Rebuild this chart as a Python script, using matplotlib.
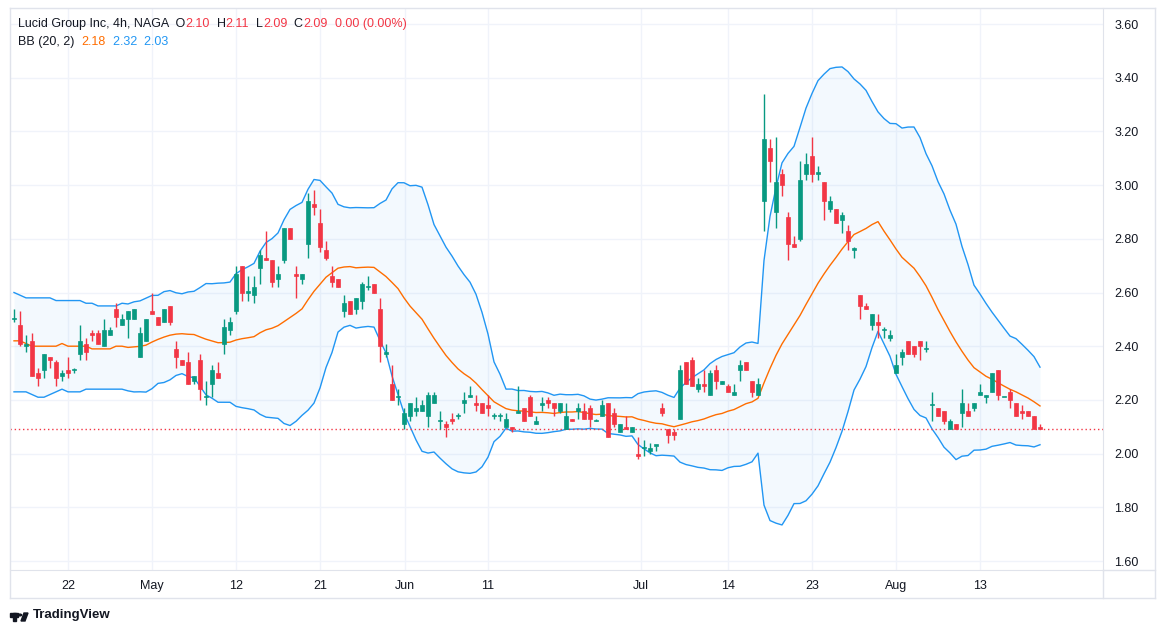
import numpy as np
import pandas as pd
import matplotlib
matplotlib.use("Agg")
import matplotlib.pyplot as plt
from matplotlib.patches import Rectangle, Circle, Polygon
from matplotlib.lines import Line2D

opens = [2.50,2.48,2.40,2.42,2.30,2.31,2.36,2.34,2.29,2.31,2.31,2.37,2.41,2.45,2.45,2.40,2.44,2.54,2.48,2.50,
 2.50,2.36,2.42,2.53,2.51,2.49,2.55,2.39,2.35,2.34,2.27,2.35,2.21,2.26,2.30,2.41,2.46,2.53,2.70,2.60,
 2.59,2.69,2.73,2.72,2.65,2.72,2.84,2.67,2.65,2.78,2.93,2.86,2.76,2.66,2.65,2.53,2.57,2.54,2.57,2.62,
 2.63,2.54,2.37,2.26,2.21,2.11,2.14,2.16,2.16,2.14,2.19,2.12,2.11,2.13,2.14,2.19,2.21,2.19,2.19,2.18,
 2.14,2.14,2.10,2.10,2.15,2.17,2.21,2.11,2.18,2.20,2.19,2.16,2.09,2.13,2.16,2.16,2.17,2.12,2.14,2.19,
 2.15,2.08,2.10,2.08,2.00,2.02,2.01,2.03,2.17,2.09,2.08,2.13,2.34,2.35,2.24,2.26,2.22,2.31,2.26,2.25,
 2.22,2.31,2.34,2.27,2.22,2.94,3.14,2.90,3.04,2.88,2.78,2.80,3.04,3.11,3.04,3.01,2.91,2.91,2.87,2.83,
 2.76,2.59,2.55,2.48,2.49,2.46,2.43,2.30,2.36,2.42,2.40,2.42,2.39,2.18,2.17,2.16,2.09,2.11,2.15,2.16,
 2.17,2.22,2.21,2.23,2.31,2.21,2.23,2.19,2.16,2.16,2.14,2.10]
highs = [2.54,2.53,2.44,2.45,2.32,2.37,2.36,2.35,2.31,2.36,2.32,2.48,2.43,2.46,2.46,2.50,2.47,2.56,2.52,2.53,
 2.54,2.47,2.50,2.60,2.51,2.54,2.55,2.42,2.35,2.38,2.29,2.37,2.27,2.33,2.34,2.50,2.51,2.70,2.70,2.66,
 2.66,2.76,2.83,2.72,2.70,2.84,2.84,2.70,2.67,2.97,2.98,2.91,2.79,2.70,2.65,2.59,2.57,2.58,2.64,2.66,
 2.63,2.58,2.41,2.33,2.24,2.17,2.19,2.21,2.20,2.23,2.23,2.16,2.12,2.15,2.15,2.23,2.25,2.22,2.19,2.22,
 2.15,2.15,2.15,2.10,2.25,2.17,2.22,2.14,2.21,2.21,2.19,2.19,2.19,2.13,2.19,2.19,2.18,2.13,2.20,2.19,
 2.17,2.11,2.14,2.10,2.06,2.05,2.04,2.03,2.19,2.09,2.09,2.33,2.34,2.36,2.28,2.31,2.31,2.33,2.27,2.26,
 2.26,2.35,2.34,2.27,2.28,3.34,3.17,3.18,3.06,2.90,2.81,3.09,3.12,3.18,3.07,3.01,2.96,2.91,2.90,2.85,
 2.77,2.59,2.56,2.52,2.52,2.47,2.46,2.37,2.39,2.42,2.40,2.42,2.42,2.23,2.17,2.16,2.13,2.11,2.24,2.19,
 2.19,2.26,2.22,2.30,2.31,2.21,2.24,2.19,2.18,2.16,2.14,2.11]
lows = [2.49,2.40,2.38,2.29,2.25,2.28,2.32,2.25,2.27,2.28,2.30,2.35,2.35,2.42,2.41,2.40,2.44,2.47,2.48,2.43,
 2.50,2.36,2.42,2.52,2.48,2.49,2.48,2.32,2.33,2.26,2.26,2.20,2.18,2.21,2.28,2.37,2.44,2.52,2.57,2.57,
 2.56,2.63,2.72,2.62,2.62,2.71,2.80,2.58,2.63,2.73,2.89,2.75,2.72,2.62,2.62,2.51,2.52,2.52,2.54,2.61,
 2.60,2.34,2.36,2.20,2.18,2.09,2.12,2.14,2.16,2.10,2.19,2.09,2.06,2.11,2.13,2.15,2.21,2.16,2.15,2.14,
 2.13,2.12,2.10,2.08,2.15,2.12,2.14,2.11,2.16,2.17,2.14,2.15,2.09,2.12,2.13,2.13,2.10,2.12,2.14,2.06,
 2.10,2.08,2.09,2.08,1.98,1.99,2.00,2.01,2.14,2.04,2.05,2.13,2.26,2.25,2.23,2.23,2.22,2.24,2.26,2.23,
 2.22,2.27,2.31,2.21,2.22,2.83,3.01,2.84,2.96,2.72,2.77,2.79,3.02,3.01,3.02,2.87,2.90,2.86,2.82,2.76,
 2.73,2.50,2.54,2.46,2.43,2.43,2.42,2.30,2.33,2.37,2.36,2.35,2.38,2.12,2.14,2.11,2.09,2.09,2.10,2.14,
 2.16,2.22,2.19,2.23,2.20,2.21,2.17,2.14,2.13,2.14,2.09,2.09]
closes = [2.50,2.41,2.41,2.29,2.28,2.37,2.35,2.28,2.30,2.30,2.31,2.42,2.38,2.44,2.41,2.46,2.46,2.51,2.50,2.53,
 2.54,2.45,2.50,2.52,2.48,2.54,2.49,2.36,2.33,2.26,2.29,2.24,2.21,2.31,2.28,2.47,2.49,2.67,2.60,2.60,
 2.62,2.74,2.72,2.64,2.67,2.84,2.80,2.66,2.67,2.94,2.92,2.77,2.73,2.64,2.62,2.56,2.52,2.58,2.63,2.62,
 2.60,2.40,2.38,2.20,2.21,2.15,2.19,2.17,2.18,2.22,2.22,2.12,2.10,2.12,2.14,2.20,2.22,2.18,2.15,2.17,
 2.14,2.14,2.13,2.09,2.16,2.12,2.14,2.12,2.19,2.19,2.17,2.19,2.14,2.12,2.17,2.13,2.13,2.12,2.18,2.06,
 2.11,2.11,2.09,2.10,1.99,2.02,2.02,2.03,2.15,2.07,2.07,2.31,2.26,2.25,2.26,2.25,2.30,2.27,2.27,2.23,
 2.23,2.33,2.31,2.23,2.26,3.17,3.09,3.01,3.00,2.78,2.77,3.02,3.08,3.04,3.05,2.94,2.94,2.86,2.89,2.79,
 2.76,2.55,2.54,2.52,2.48,2.46,2.44,2.33,2.38,2.37,2.37,2.40,2.39,2.18,2.14,2.12,2.12,2.09,2.19,2.14,
 2.19,2.23,2.22,2.30,2.22,2.21,2.20,2.14,2.15,2.14,2.09,2.09]

# Bollinger values for the first 19 bars (history before the visible range)
early_upper = [2.60,2.59,2.58,2.58,2.58,2.58,2.58,2.57,2.57,2.57,2.57,2.57,2.56,2.56,2.55,2.55,2.55,2.55,2.56]
early_mid   = [2.42,2.42,2.41,2.40,2.40,2.40,2.40,2.40,2.41,2.40,2.40,2.40,2.40,2.39,2.39,2.39,2.39,2.40,2.40]
early_lower = [2.23,2.23,2.23,2.22,2.21,2.21,2.22,2.23,2.24,2.23,2.23,2.23,2.24,2.24,2.24,2.24,2.24,2.24,2.24]

date_labels = ["22", "May", "12", "21", "Jun", "11", "Jul", "14", "23", "Aug", "13"]
date_bars = [9, 23, 37, 51, 65.2, 79, 104.5, 119, 133, 147, 161]
price_ticks = [1.60, 1.80, 2.00, 2.20, 2.40, 2.60, 2.80, 3.00, 3.20, 3.40, 3.60]

GREEN = "#089981"; RED = "#F23645"; BLUE = "#2196F3"; ORANGE = "#FF6D00"
GRID = "#f0f3fa"; BORDER = "#e0e3eb"; TXT = "#131722"

c = pd.Series(closes)
mid = c.rolling(20).mean()
sd = c.rolling(20).std(ddof=0)
upper = (mid + 2 * sd).to_numpy(); lower = (mid - 2 * sd).to_numpy(); mid = mid.to_numpy()
n0 = len(early_mid)
mid[:n0] = early_mid; upper[:n0] = early_upper; lower[:n0] = early_lower

W, H = 1165, 633
plt.rcParams["font.family"] = "Liberation Sans"
fig = plt.figure(figsize=(W/100, H/100), dpi=100)
ax = fig.add_axes([10/W, (H-570)/H, (1103-10)/W, (570-8)/H])
x = np.arange(len(closes))
ax.set_xlim(-0.667, 181.5)
ax.set_ylim(1.60 - 9/268.5, 3.60 + 16/268.5)

for v in price_ticks:
    ax.axhline(v, color=GRID, lw=1, zorder=0)
for b in date_bars:
    ax.axvline(b, color=GRID, lw=1, zorder=0)

ax.fill_between(x, lower, upper, color=BLUE, alpha=0.05, lw=0, zorder=1)
ax.plot(x, upper, color=BLUE, lw=1, zorder=2)
ax.plot(x, lower, color=BLUE, lw=1, zorder=2)
ax.plot(x, mid, color=ORANGE, lw=1, zorder=2)

for i in range(len(closes)):
    o, h, l, cl = opens[i], highs[i], lows[i], closes[i]
    col = GREEN if cl >= o else RED
    ax.vlines(i, l, h, color=col, lw=1, zorder=3)
    bot = min(o, cl); ht = max(abs(cl - o), 0.004)
    ax.add_patch(Rectangle((i - 0.36, bot), 0.72, ht, facecolor=col, edgecolor=col, lw=0.5, zorder=4))

ax.axhline(closes[-1], color=RED, lw=1, ls=(0, (1, 2)), zorder=2)

ax.yaxis.tick_right()
ax.set_yticks(price_ticks)
ax.set_yticklabels([f"{v:.2f}" for v in price_ticks], fontsize=9, color=TXT)
ax.set_xticks(date_bars)
ax.set_xticklabels(date_labels, fontsize=9, color=TXT)
ax.tick_params(axis="y", length=0, pad=8)
ax.tick_params(axis="x", length=0, pad=7)
for s in ["top", "left"]:
    ax.spines[s].set_visible(False)
for s in ["right", "bottom"]:
    ax.spines[s].set_color(BORDER)

for (x0, y0, x1, y1) in [(10, 8, 1155, 8), (10, 598, 1155, 598), (10, 8, 10, 598), (1155, 8, 1155, 598),
                         (1103, 570, 1103, 598), (1103, 570, 1155, 570)]:
    fig.add_artist(Line2D([x0/W, x1/W], [1-y0/H, 1-y1/H], color=BORDER, lw=1))

renderer = fig.canvas.get_renderer()
def row(items, y):
    xpos = 18
    for txt, col in items:
        t = fig.text(xpos/W, 1 - y/H, txt, fontsize=9, color=col, va="center", ha="left")
        xpos += t.get_window_extent(renderer=renderer).width
row([("Lucid Group Inc, 4h, NAGA  O", TXT), ("2.10", RED), ("  H", TXT), ("2.11", RED),
     ("  L", TXT), ("2.09", RED), ("  C", TXT), ("2.09", RED), ("  0.00 (0.00%)", RED)], 24)
row([("BB (20, 2)  ", TXT), ("2.18", ORANGE), ("  2.32", BLUE), ("  2.03", BLUE)], 42)

# TradingView logo (simple shapes)
fig.add_artist(Rectangle((10/W, 1-617/H), 8/W, 4/H, color=TXT, transform=fig.transFigure))
fig.add_artist(Rectangle((13/W, 1-621/H), 3/W, 8/H, color=TXT, transform=fig.transFigure))
fig.add_artist(Circle((20/W, 1-615/H), 1.6/W, color=TXT, transform=fig.transFigure))
fig.add_artist(Polygon([(21/W, 1-621/H), (24/W, 1-613/H), (28/W, 1-613/H), (25/W, 1-621/H)],
                       closed=True, color=TXT, transform=fig.transFigure))
fig.text(33/W, 1 - 615/H, "TradingView", fontsize=9.5, color=TXT, va="center", ha="left", fontweight="bold")

fig.savefig("out.png", dpi=100, facecolor="white")
